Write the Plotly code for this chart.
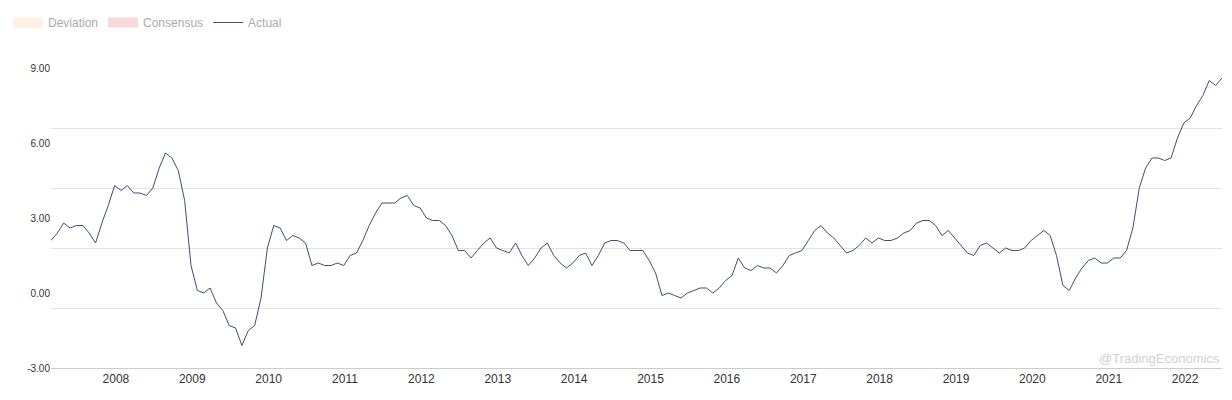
import plotly.graph_objects as go

# US CPI YoY, monthly Jan 2007 - May 2022
actual = [
    2.1, 2.4, 2.8, 2.6, 2.7, 2.7, 2.4, 2.0, 2.8, 3.5, 4.3, 4.1,
    4.3, 4.0, 4.0, 3.9, 4.2, 5.0, 5.6, 5.4, 4.9, 3.7, 1.1, 0.1,
    0.0, 0.2, -0.4, -0.7, -1.3, -1.4, -2.1, -1.5, -1.3, -0.2, 1.8, 2.7,
    2.6, 2.1, 2.3, 2.2, 2.0, 1.1, 1.2, 1.1, 1.1, 1.2, 1.1, 1.5,
    1.6, 2.1, 2.7, 3.2, 3.6, 3.6, 3.6, 3.8, 3.9, 3.5, 3.4, 3.0,
    2.9, 2.9, 2.7, 2.3, 1.7, 1.7, 1.4, 1.7, 2.0, 2.2, 1.8, 1.7,
    1.6, 2.0, 1.5, 1.1, 1.4, 1.8, 2.0, 1.5, 1.2, 1.0, 1.2, 1.5,
    1.6, 1.1, 1.5, 2.0, 2.1, 2.1, 2.0, 1.7, 1.7, 1.7, 1.3, 0.8,
    -0.1, 0.0, -0.1, -0.2, 0.0, 0.1, 0.2, 0.2, 0.0, 0.2, 0.5, 0.7,
    1.4, 1.0, 0.9, 1.1, 1.0, 1.0, 0.8, 1.1, 1.5, 1.6, 1.7, 2.1,
    2.5, 2.7, 2.4, 2.2, 1.9, 1.6, 1.7, 1.9, 2.2, 2.0, 2.2, 2.1,
    2.1, 2.2, 2.4, 2.5, 2.8, 2.9, 2.9, 2.7, 2.3, 2.5, 2.2, 1.9,
    1.6, 1.5, 1.9, 2.0, 1.8, 1.6, 1.8, 1.7, 1.7, 1.8, 2.1, 2.3,
    2.5, 2.3, 1.5, 0.3, 0.1, 0.6, 1.0, 1.3, 1.4, 1.2, 1.2, 1.4,
    1.4, 1.7, 2.6, 4.2, 5.0, 5.4, 5.4, 5.3, 5.4, 6.2, 6.8, 7.0,
    7.5, 7.9, 8.5, 8.3, 8.6,
]
months = list(range(len(actual)))
years = [str(y) for y in range(2008, 2023)]
year_pos = [10.2 + 12 * i for i in range(len(years))]
grid_vals = [9, 6.6, 4.2, 1.8, -0.6, -3]
label_vals = [9, 6, 3, 0, -3]
label_text = ["9.00", "6.00", "3.00", "0.00", "-3.00"]

fig = go.Figure()
fig.add_trace(go.Scatter(x=[None], y=[None], name="Deviation", mode="lines",
                         line=dict(color="#fdf1e6", width=10)))
fig.add_trace(go.Scatter(x=[None], y=[None], name="Consensus", mode="lines",
                         line=dict(color="#f9d9d9", width=10)))
fig.add_trace(go.Scatter(x=months, y=actual, name="Actual", mode="lines",
                         line=dict(color="#3b5073", width=1), hoverinfo="y"))
fig.add_trace(go.Scatter(x=[None], y=[None], yaxis="y2", showlegend=False))

fig.update_layout(
    width=1224, height=392,
    margin=dict(l=43, r=10, t=60, b=32, autoexpand=False),
    plot_bgcolor="white", paper_bgcolor="white",
    font=dict(family="Arial, Liberation Sans", size=11, color="#333"),
    showlegend=True,
    legend=dict(orientation="h", x=0.0, y=1.0, xref="container", yref="container",
                xanchor="left", yanchor="top", font=dict(size=12, color="#aaa"),
                itemwidth=30),
    xaxis=dict(range=[0, len(actual) - 1], tickvals=year_pos, ticktext=years,
               showgrid=False, zeroline=False, showline=True, linecolor="#ccc",
               ticks="", tickfont=dict(size=12, color="#333"), automargin=False),
    yaxis=dict(range=[-3, 9], tickvals=grid_vals, showticklabels=False,
               showgrid=True, gridcolor="#e3e3e3", zeroline=False, automargin=False),
    yaxis2=dict(range=[-3, 9], overlaying="y", side="left", tickvals=label_vals,
                ticktext=label_text, showgrid=False, zeroline=False, automargin=False,
                tickfont=dict(size=10, color="#333")),
)
fig.add_annotation(text="@TradingEconomics", x=1, y=0, xref="paper", yref="paper",
                   xanchor="right", yanchor="bottom", showarrow=False,
                   font=dict(size=13, color="#d0d0d0"))
fig.write_html("out.html")
